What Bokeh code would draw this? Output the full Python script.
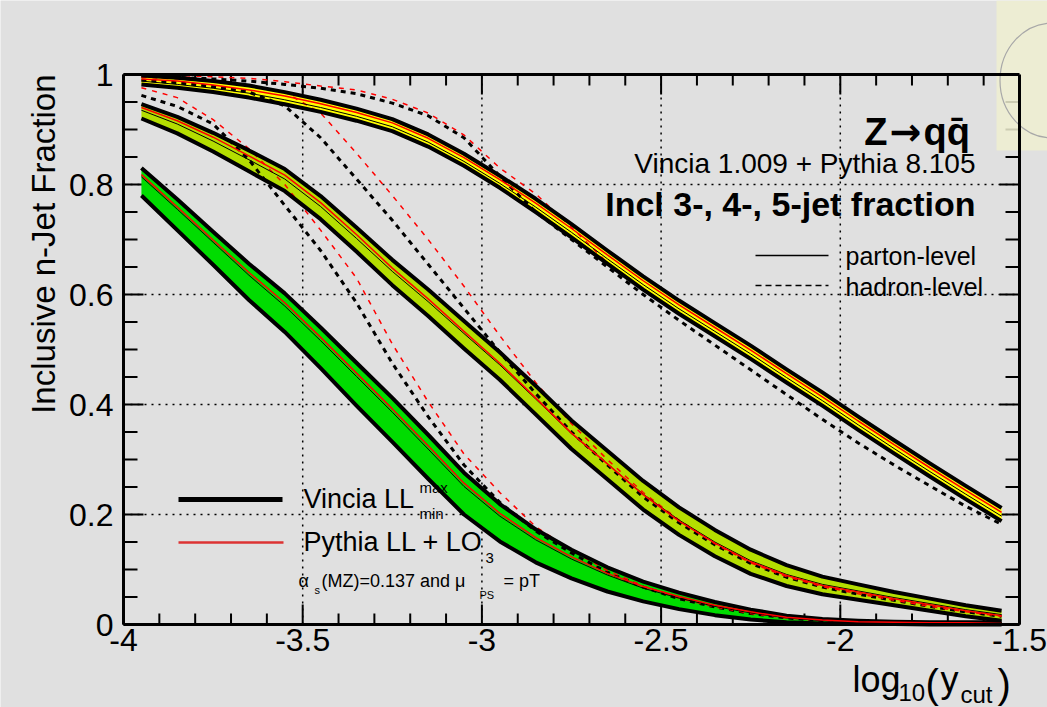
import math
from bokeh.plotting import figure
from bokeh.models import Range1d, LinearAxis, FixedTicker, Label, PrintfTickFormatter
from bokeh.embed import file_html
from bokeh.resources import INLINE

# ---------------- data ----------------
x_cut = [-3.95, -3.85, -3.75, -3.65, -3.55, -3.45, -3.35, -3.25, -3.15, -3.05,
         -2.95, -2.85, -2.75, -2.65, -2.55, -2.45, -2.35, -2.25, -2.15, -2.05,
         -1.95, -1.85, -1.75, -1.65, -1.55]

# 3-jet band (Vincia LL max/min envelope)
jet3_mid = [0.990, 0.985, 0.978, 0.969, 0.957, 0.943, 0.927, 0.908, 0.880, 0.845,
            0.805, 0.762, 0.716, 0.668, 0.621, 0.577, 0.536, 0.495, 0.452, 0.410,
            0.366, 0.323, 0.281, 0.240, 0.200]
jet3_half = [0.008, 0.009, 0.010, 0.011, 0.011, 0.011, 0.011, 0.011, 0.011, 0.011,
             0.011, 0.012, 0.012, 0.012, 0.012, 0.012, 0.012, 0.012, 0.012, 0.012,
             0.012, 0.012, 0.012, 0.012, 0.012]
jet3_vincia = [0.988, 0.982, 0.975, 0.966, 0.954, 0.940, 0.924, 0.905, 0.877, 0.842,
               0.802, 0.759, 0.713, 0.665, 0.618, 0.574, 0.533, 0.492, 0.449, 0.407,
               0.363, 0.320, 0.278, 0.237, 0.197]
jet3_pythia = [0.992, 0.988, 0.981, 0.972, 0.961, 0.947, 0.931, 0.912, 0.884, 0.849,
               0.809, 0.766, 0.720, 0.672, 0.625, 0.581, 0.540, 0.499, 0.456, 0.414,
               0.370, 0.327, 0.285, 0.244, 0.204]
jet3_had_vincia = [0.997, 0.995, 0.992, 0.988, 0.982, 0.975, 0.965, 0.948, 0.925, 0.885,
                   0.815, 0.750, 0.700, 0.650, 0.600, 0.553, 0.508, 0.463, 0.418, 0.373,
                   0.330, 0.290, 0.252, 0.215, 0.182]
jet3_had_pythia = [0.999, 0.998, 0.996, 0.993, 0.987, 0.979, 0.972, 0.955, 0.930, 0.890,
                   0.830, 0.783, 0.722, 0.658, 0.610, 0.566, 0.525, 0.484, 0.441, 0.399,
                   0.355, 0.312, 0.270, 0.229, 0.189]

# 4-jet band
jet4_mid = [0.933, 0.908, 0.877, 0.843, 0.808, 0.758, 0.700, 0.640, 0.585, 0.527,
            0.470, 0.408, 0.345, 0.290, 0.235, 0.188, 0.148, 0.114, 0.089, 0.071,
            0.059, 0.047, 0.036, 0.025, 0.016]
jet4_half = [0.013, 0.015, 0.017, 0.019, 0.020, 0.021, 0.022, 0.023, 0.024, 0.025,
             0.025, 0.026, 0.026, 0.026, 0.026, 0.025, 0.024, 0.022, 0.019, 0.016,
             0.014, 0.012, 0.011, 0.010, 0.009]
jet4_vincia = [0.935, 0.910, 0.879, 0.845, 0.810, 0.760, 0.702, 0.642, 0.587, 0.529,
               0.472, 0.410, 0.347, 0.292, 0.237, 0.190, 0.150, 0.116, 0.091, 0.073,
               0.061, 0.049, 0.038, 0.027, 0.018]
jet4_pythia = [0.940, 0.916, 0.886, 0.852, 0.817, 0.767, 0.709, 0.648, 0.592, 0.533,
               0.475, 0.412, 0.348, 0.292, 0.236, 0.188, 0.148, 0.114, 0.089, 0.071,
               0.059, 0.047, 0.036, 0.025, 0.016]
jet4_had_vincia = [0.990, 0.985, 0.978, 0.968, 0.943, 0.885, 0.810, 0.735, 0.655, 0.575,
                   0.495, 0.420, 0.350, 0.290, 0.232, 0.185, 0.145, 0.111, 0.086, 0.068,
                   0.055, 0.044, 0.033, 0.023, 0.015]
jet4_had_pythia = [0.995, 0.992, 0.987, 0.980, 0.968, 0.930, 0.857, 0.780, 0.700, 0.615,
                   0.525, 0.440, 0.365, 0.300, 0.240, 0.190, 0.147, 0.112, 0.087, 0.069,
                   0.056, 0.044, 0.033, 0.023, 0.015]

# 5-jet band
jet5_mid = [0.805, 0.745, 0.684, 0.623, 0.567, 0.503, 0.437, 0.372, 0.305, 0.238,
            0.185, 0.143, 0.110, 0.082, 0.060, 0.043, 0.029, 0.018, 0.010, 0.006,
            0.004, 0.003, 0.002, 0.002, 0.002]
jet5_half = [0.025, 0.028, 0.030, 0.033, 0.035, 0.037, 0.039, 0.040, 0.040, 0.038,
             0.034, 0.030, 0.026, 0.022, 0.018, 0.015, 0.012, 0.009, 0.006, 0.004,
             0.003, 0.002, 0.002, 0.002, 0.002]
jet5_vincia = [0.814, 0.755, 0.695, 0.635, 0.579, 0.516, 0.451, 0.386, 0.319, 0.251,
               0.197, 0.154, 0.119, 0.090, 0.066, 0.048, 0.033, 0.021, 0.012, 0.007,
               0.005, 0.004, 0.003, 0.002, 0.002]
jet5_pythia = [0.818, 0.759, 0.699, 0.640, 0.585, 0.522, 0.457, 0.392, 0.325, 0.257,
               0.202, 0.158, 0.123, 0.093, 0.069, 0.051, 0.035, 0.023, 0.013, 0.008,
               0.005, 0.004, 0.003, 0.003, 0.002]
jet5_had_vincia = [0.962, 0.942, 0.910, 0.845, 0.762, 0.680, 0.585, 0.475, 0.378, 0.290,
                   0.222, 0.170, 0.130, 0.095, 0.068, 0.047, 0.032, 0.020, 0.012, 0.007,
                   0.004, 0.003, 0.002, 0.002, 0.002]
jet5_had_pythia = [0.976, 0.958, 0.918, 0.865, 0.800, 0.717, 0.630, 0.510, 0.405, 0.310,
                   0.240, 0.178, 0.135, 0.098, 0.070, 0.048, 0.032, 0.020, 0.012, 0.007,
                   0.004, 0.003, 0.002, 0.002, 0.002]

x_tick_values = [-4.0, -3.5, -3.0, -2.5, -2.0, -1.5]
x_minor_values = [round(-4.0 + 0.1 * k, 2) for k in range(26)]
y_tick_values = [0.0, 0.2, 0.4, 0.6, 0.8, 1.0]
y_minor_values = [round(0.05 * k, 2) for k in range(21)]

band_colors = {"3": "#ffff00", "4": "#b4de00", "5": "#00dc00"}
RED = "#ff0000"
BG = "#e0e0e0"
FONT = "Liberation Sans"

# ---------------- layout: data box [-4,-1.5]x[0,1] sits at pixels 123..1019 x 74..624
W, H = 1047, 707
FL, FR, FT, FB = 123, 1019, 74, 624
XMIN, XMAX, YMIN, YMAX = -4.0, -1.5, 0.0, 1.0
DX = (XMAX - XMIN) / (FR - FL)   # data units per pixel
DY = (YMAX - YMIN) / (FB - FT)


def fx(px):
    return XMIN + (px - FL) * DX


def fy(py):
    return YMIN + (FB - py) * DY


p = figure(width=W, height=H, x_range=Range1d(fx(0), fx(W)), y_range=Range1d(fy(H), fy(0)),
           output_backend="svg", toolbar_location=None,
           x_axis_location=None, y_axis_location=None, min_border=0)
p.background_fill_color = BG
p.border_fill_color = BG
p.outline_line_color = None
p.xgrid.visible = False
p.ygrid.visible = False

xt = FixedTicker(ticks=x_tick_values, minor_ticks=x_minor_values)
yt = FixedTicker(ticks=y_tick_values, minor_ticks=y_minor_values)


def make_axis(ticker, loc, bounds, show_labels):
    ax = LinearAxis(ticker=ticker, fixed_location=loc, bounds=bounds)
    ax.axis_line_width = 3
    ax.axis_line_color = "black"
    ax.major_tick_in = 0
    ax.major_tick_out = 0
    ax.minor_tick_in = 0
    ax.minor_tick_out = 0
    ax.formatter = PrintfTickFormatter(format="%g")
    if show_labels:
        ax.major_label_text_font = FONT
        ax.major_label_text_font_size = "32px"
        ax.major_label_text_color = "black"
    else:
        ax.major_label_text_font_size = "1px"
        ax.major_label_text_color = None
        ax.major_label_standoff = 0
    return ax


bottom_ax = make_axis(xt, YMIN, (XMIN, XMAX), True)
bottom_ax.major_label_standoff = 4
left_ax = make_axis(yt, XMIN, (YMIN, YMAX), True)
left_ax.major_label_standoff = 10
top_ax = make_axis(xt, YMAX, (XMIN, XMAX), False)
right_ax = make_axis(yt, XMAX, (YMIN, YMAX), False)
p.add_layout(bottom_ax, "below")
p.add_layout(left_ax, "left")
p.add_layout(top_ax, "above")
p.add_layout(right_ax, "right")

# dotted grid at the major ticks, limited to the data box
p.segment(x0=x_tick_values, y0=[YMIN] * len(x_tick_values),
          x1=x_tick_values, y1=[YMAX] * len(x_tick_values),
          line_color="black", line_dash="2 5", line_width=1.5)
p.segment(x0=[XMIN] * len(y_tick_values), y0=y_tick_values,
          x1=[XMAX] * len(y_tick_values), y1=y_tick_values,
          line_color="black", line_dash="2 5", line_width=1.5)

# inward tick marks on all four sides (ROOT style)
x_minor_only = [v for v in x_minor_values if v not in x_tick_values]
y_minor_only = [v for v in y_minor_values if v not in y_tick_values]
for vals, length in ((x_tick_values, 20), (x_minor_only, 11)):
    n = len(vals)
    p.segment(x0=vals, y0=[YMIN] * n, x1=vals, y1=[YMIN + length * DY] * n,
              line_color="black", line_width=2)
    p.segment(x0=vals, y0=[YMAX] * n, x1=vals, y1=[YMAX - length * DY] * n,
              line_color="black", line_width=2)
for vals, length in ((y_tick_values, 20), (y_minor_only, 14)):
    n = len(vals)
    p.segment(x0=[XMIN] * n, y0=vals, x1=[XMIN + length * DX] * n, y1=vals,
              line_color="black", line_width=2)
    p.segment(x0=[XMAX] * n, y0=vals, x1=[XMAX - length * DX] * n, y1=vals,
              line_color="black", line_width=2)

# ---------------- bands ----------------
bands = [
    ("3", jet3_mid, jet3_half, jet3_vincia, jet3_pythia),
    ("4", jet4_mid, jet4_half, jet4_vincia, jet4_pythia),
    ("5", jet5_mid, jet5_half, jet5_vincia, jet5_pythia),
]
for key, mid, half, vin, pyt in bands:
    up = [min(m + h, YMAX) for m, h in zip(mid, half)]
    lo = [max(m - h, YMIN) for m, h in zip(mid, half)]
    p.varea(x=x_cut, y1=lo, y2=up, fill_color=band_colors[key])

hadrons = [
    (jet3_had_vincia, jet3_had_pythia),
    (jet4_had_vincia, jet4_had_pythia),
    (jet5_had_vincia, jet5_had_pythia),
]
for hv, hp in hadrons:
    p.line(x_cut, hv, line_color="black", line_width=3, line_dash="5 5")
    p.line(x_cut, hp, line_color=RED, line_width=1.5, line_dash="5 6")

for key, mid, half, vin, pyt in bands:
    up = [min(m + h, YMAX) for m, h in zip(mid, half)]
    lo = [max(m - h, YMIN) for m, h in zip(mid, half)]
    p.line(x_cut, up, line_color="black", line_width=4, line_join="round")
    p.line(x_cut, lo, line_color="black", line_width=4, line_join="round")
    p.line(x_cut, vin, line_color="black", line_width=1)
    p.line(x_cut, pyt, line_color=RED, line_width=1.5)

# faint logo patch in the top-right corner
p.quad(left=fx(996), right=fx(W), top=fy(0), bottom=fy(150),
       fill_color="#eeeed0", fill_alpha=0.85, line_color=None)
p.ellipse(x=fx(1052), y=fy(80), width=105 * DX, height=115 * DY,
          fill_color=None, line_color="#a8a8a8", line_width=1.2)


# ---------------- texts ----------------
def label(text, px, py, size, align="left", baseline="middle", bold=False, angle=0.0,
          font=FONT):
    p.add_layout(Label(x=fx(px), y=fy(py), text=text, text_font=font,
                       text_font_size=f"{size}px", text_align=align,
                       text_baseline=baseline, angle=angle, text_color="black",
                       text_font_style="bold" if bold else "normal"))


label("Z", 887, 131, 38, align="right", baseline="alphabetic", bold=True)
label("\u2192", 905, 131, 38, align="center", baseline="alphabetic", bold=True,
      font="DejaVu Sans")
label("qq\u0304", 923, 131, 38, align="left", baseline="alphabetic", bold=True)
label("Vincia 1.009 + Pythia 8.105", 975, 163, 28, align="right")
label("Incl 3-, 4-, 5-jet fraction", 975, 203, 34, align="right", bold=True)

p.line([fx(755), fx(828)], [fy(255), fy(255)], line_color="black", line_width=1.5)
label("parton-level", 845, 255, 25)
p.line([fx(755), fx(828)], [fy(285), fy(285)], line_color="black", line_width=1.5,
       line_dash="6 4")
label("hadron-level", 845, 286, 25)

p.line([fx(178), fx(282)], [fy(499), fy(499)], line_color="black", line_width=5)
label("Vincia LL", 303, 498, 27)
label("max", 419, 487, 15)
label("min", 419, 513, 15)
p.line([fx(178), fx(283)], [fy(542), fy(542)], line_color="#dd3333", line_width=2.5)
label("Pythia LL + LO", 303, 541, 27)
label("3", 485, 557, 15)
label("\u03b1", 298, 580, 18)
label("s", 314, 589, 11)
label("(MZ)=0.137 and \u03bc", 321, 580, 18)
label("PS", 479, 594, 11)
label("= pT", 503, 580, 18)

# axis titles
label("Inclusive n-Jet Fraction", 43, 74, 33, align="right", baseline="alphabetic",
      angle=math.pi / 2)
label("log", 852, 679, 36, baseline="alphabetic")
label("10", 898, 692, 24, baseline="alphabetic")
label("(", 925, 683, 40, baseline="alphabetic")
label("y", 940, 679, 36, baseline="alphabetic")
label("cut", 960, 694, 24, baseline="alphabetic")
label(")", 997, 683, 40, baseline="alphabetic")

open("out.html", "w").write(file_html(p, INLINE))
